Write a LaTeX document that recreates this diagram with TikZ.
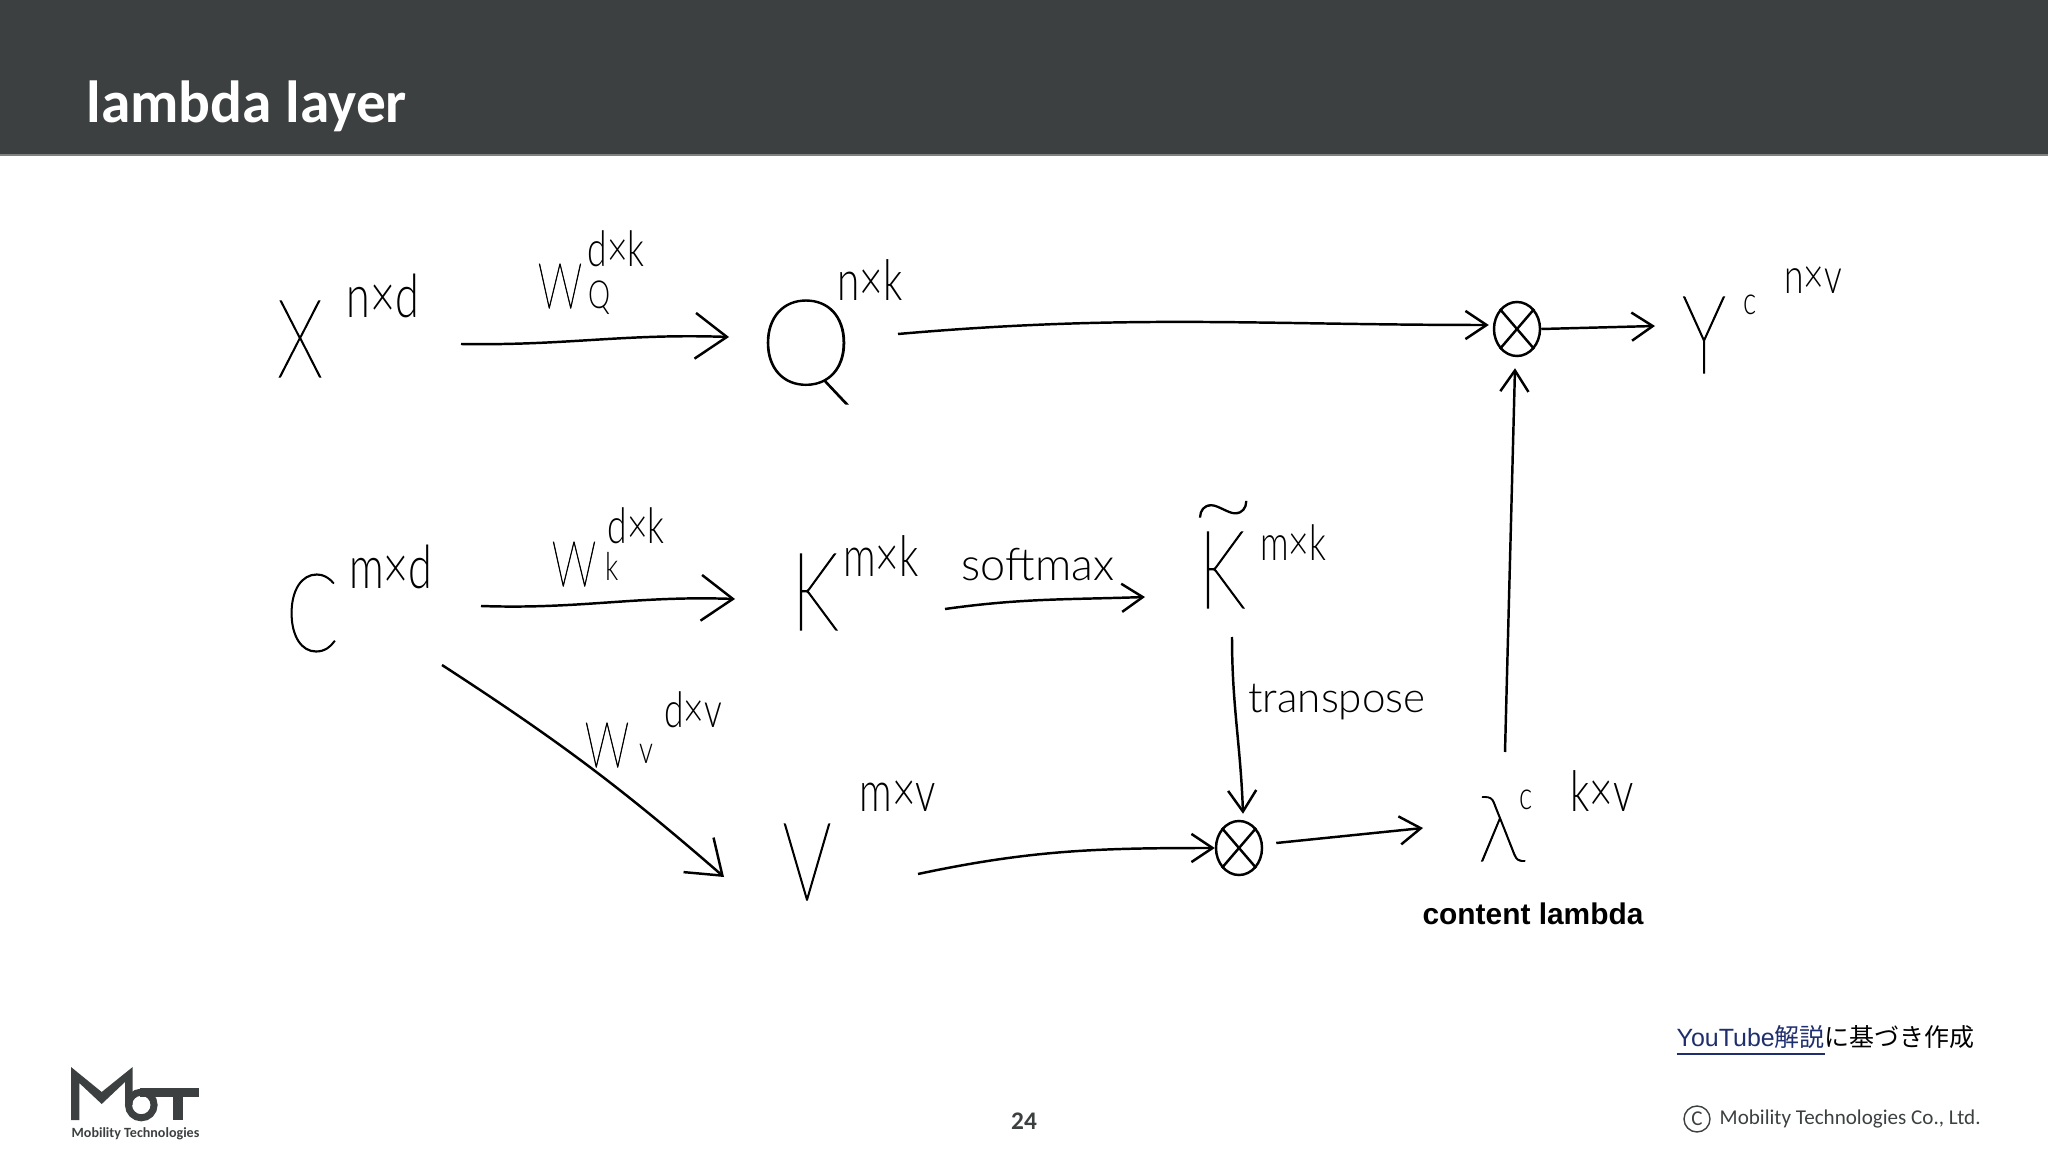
\documentclass[tikz,border=0pt]{standalone}
\usepackage{fontspec}
\usetikzlibrary{arrows.meta}
\usetikzlibrary{shapes.geometric}
\setmainfont{Liberation Sans}
\newfontfamily\handbig[FakeStretch=0.7, FakeBold=1]{Lato Thin}
\newfontfamily\handround[FakeBold=1]{Lato Thin}
\newfontfamily\hand[FakeStretch=0.72]{Lato Light}
\newfontfamily\handwide{Lato Light}
\newfontfamily\slide{Carlito}
\newfontfamily\cjk{Noto Sans CJK JP}
\newcommand{\fsz}[2]{#1\fontsize{#2}{#2}\selectfont}
\definecolor{slidegray}{HTML}{3C4040}
\definecolor{linknavy}{HTML}{1F2F6E}

\tikzset{
  letter/.style={inner sep=0pt, font=\fsz{\handbig}{31}},
  dimbig/.style={inner sep=0pt, font=\fsz{\hand}{17}},
  dim/.style={inner sep=0pt, font=\fsz{\hand}{16}},
  dimsmall/.style={inner sep=0pt, font=\fsz{\hand}{14}},
  subscr/.style={inner sep=0pt, font=\fsz{\hand}{11}},
  weight/.style={inner sep=0pt, font=\fsz{\handbig}{18}},
  opname/.style={inner sep=0pt, font=\fsz{\handwide}{12}},
  mult/.style={draw, ellipse, inner sep=0pt, line width=0.7pt, minimum width=0.46cm, minimum height=0.54cm},
  wire/.style={line width=0.7pt, -{Straight Barb[length=9pt, width=13pt]}},
  wiresmall/.style={line width=0.7pt, -{Straight Barb[length=6pt, width=8pt]}}
}

\begin{document}
\begin{tikzpicture}[x=0.01cm, y=-0.01cm]
\useasboundingbox (0, 0) rectangle (2048, 1152);

% header
\fill [slidegray] (0, 0) rectangle (2048, 155);
\draw [gray, line width=0.4pt] (0, 155) -- (2048, 155);
\node [anchor=base west, inner sep=0pt, text=white, font=\fsz{\slide\bfseries}{16.9}] (title) at (86, 123) {lambda layer};

% top row
\node [letter] (X) at (300, 339) {X};
\node [dimbig] (Xdim) at (383, 296) {n×d};
\node [weight] (Wq) at (560, 286) {W};
\node [subscr] (WqSub) at (600, 298) {Q};
\node [dimsmall] (WqDim) at (616, 249) {d×k};
\node [letter, font=\fsz{\handround}{34}] (Q) at (806, 352) {Q};
\node [dim] (Qdim) at (870, 280) {n×k};
\node [mult] (mulA) at (1517, 329) {};
\node [letter] (Y) at (1704, 335) {Y};
\node [subscr] (Yc) at (1750, 305) {c};
\node [dimsmall] (Ydim) at (1813, 280) {n×v};

% middle row
\node [letter] (C) at (312, 613) {C};
\node [dimbig] (Cdim) at (391, 567) {m×d};
\node [weight] (Wk) at (574, 564) {W};
\node [subscr] (WkSub) at (612, 566) {k};
\node [dimsmall] (WkDim) at (636, 526) {d×k};
\node [letter] (K) at (815, 592) {K};
\node [dim] (Kdim) at (881, 556) {m×k};
\node [opname, font=\fsz{\handwide}{12.8}] (softmax) at (1038, 565) {softmax};
\node [letter] (Kt) at (1222, 570) {K};
\node [inner sep=0pt, font=\fsz{\handround}{32}] (tilde) at (1223, 522) {\char"7E};
\node [dimsmall] (Ktdim) at (1293, 543) {m×k};

% bottom row
\node [weight] (Wv) at (607, 745) {W};
\node [subscr] (WvSub) at (646, 754) {v};
\node [dimsmall] (WvDim) at (693, 710) {d×v};
\node [letter] (V) at (807, 862) {V};
\node [dim] (Vdim) at (898, 796) {m×v};
\node [opname] (transpose) at (1337, 702) {transpose};
\node [mult] (mulB) at (1239, 848) {};
\node [letter, font=\fsz{\handround}{26}] (lam) at (1501, 829) {λ};
\node [subscr] (lamC) at (1526, 800) {c};
\node [dim] (lamDim) at (1602, 791) {k×v};
\node [inner sep=0pt, font=\fsz{\bfseries}{8.5}] (content) at (1533, 914) {content lambda};

% the crosses in the two products
\foreach \m in {mulA, mulB} {
  \draw [line width=0.7pt] (\m.north west) -- (\m.south east);
  \draw [line width=0.7pt] (\m.north east) -- (\m.south west);
}

% connectors
\draw [wire] ([shift={(161, 5)}]X.center) to[out=-1, in=178] ([shift={(-77, -15)}]Q.center);
\draw [wiresmall] ([shift={(92, -18)}]Q.center) to[out=5, in=180] ([shift={(-4, -4)}]mulA.west);
\draw [wiresmall] (mulA.east) -- ([shift={(-49, -9)}]Y.center);
\draw [wire] ([shift={(169, -7)}]C.center) to[out=-2, in=178] ([shift={(-80, 7)}]K.center);
\draw [wiresmall] ([shift={(130, 17)}]K.center) to[out=8, in=182] ([shift={(-77, 27)}]Kt.center);
\draw [wiresmall] ([shift={(10, 67)}]Kt.center) to[out=-90, in=92] ([shift={(4, -6)}]mulB.north);
\draw [wire] ([shift={(130, 52)}]C.center) to[out=-33, in=139] ([shift={(-83, 15)}]V.center);
\draw [wiresmall] ([shift={(111, 12)}]V.center) to[out=12, in=180] (mulB.west);
\draw [wiresmall] ([shift={(13, -5)}]mulB.east) -- ([shift={(-78, -1)}]lam.center);
\draw [wiresmall] ([shift={(4, -77)}]lam.center) -- ([shift={(-2, 11)}]mulA.south);

% logo
\fill [slidegray] (71, 1067) -- (101.7, 1092) -- (132.7, 1067) -- (132.7, 1105) -- (125, 1105) -- (125, 1082) -- (101.7, 1104) -- (79.3, 1083) -- (79.3, 1120) -- (71, 1120) -- cycle;
\draw [slidegray, line width=0.07cm] (141.3, 1105) circle (12.8);
\fill [slidegray] (140, 1088.3) rectangle (199, 1096.7);
\fill [slidegray] (173.3, 1090) rectangle (182.7, 1120);
\node [inner sep=0pt, text=slidegray, font=\fsz{\slide\bfseries}{4}] (logotext) at (135.5, 1134) {Mobility Technologies};

% footer
\node [inner sep=0pt, text=slidegray, font=\fsz{\slide\bfseries}{7.2}] (pagenum) at (1024, 1121) {24};
\node [anchor=west, inner sep=0pt, font=\fsz{\normalfont}{7.1}] (source) at (1676, 1041) {\textcolor{linknavy}{\underline{YouTube\cjk 解説}}\cjk に基づき作成};
\node [draw=slidegray, circle, line width=0.4pt, minimum size=0.26cm, inner sep=0pt, text=slidegray, font=\fsz{\slide}{6}] (copymark) at (1697, 1119) {C};
\node [anchor=west, inner sep=0pt, text=slidegray, font=\fsz{\slide}{6}] (copyright) at (1719, 1119) {Mobility Technologies Co., Ltd.};

\end{tikzpicture}
\end{document}
